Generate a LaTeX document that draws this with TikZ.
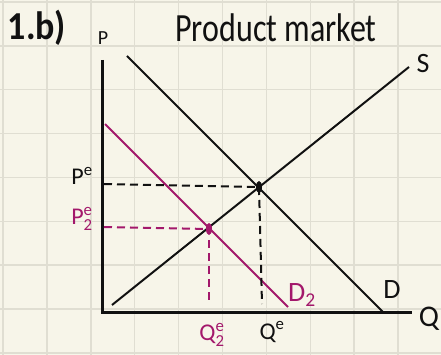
\documentclass[tikz,border=0pt]{standalone}
\usepackage{fontspec}
\usepackage{amsmath}
\setmainfont{Carlito}
\definecolor{paper}{HTML}{F7F5E9}
\definecolor{gridline}{HTML}{E0DED2}
\definecolor{plum}{HTML}{A3186B}
\definecolor{ink}{HTML}{111111}
\begin{document}
\begin{tikzpicture}[x=1pt, y=-1pt,
    curve/.style={ink, line width=2pt},
    guide/.style={line width=2pt, dash pattern=on 8pt off 5pt},
    lbl/.style={inner sep=0pt, font=\fontsize{28}{30}\selectfont},
    small/.style={inner sep=0pt, font=\fontsize{24}{26}\selectfont}]
    % FOGLIO A QUADRETTI
    \fill[paper] (0,0) rectangle (441,355);
    \useasboundingbox (0,0) rectangle (441,355);
    \foreach \i in {0,...,10}
        \draw[gridline, line width=1.5pt] ({3+43.9*\i},0) -- ({3+43.9*\i},355);
    \foreach \j in {0,...,8}
        \draw[gridline, line width=1.5pt] (0,{2+43.85*\j}) -- (441,{2+43.85*\j});

    % ASSI
    \coordinate (O) at (102,312);
    \coordinate (ytop) at (102,60);
    \coordinate (xend) at (412,312);
    \draw[ink, line width=3pt] (ytop) -- (O) -- (xend);
    \node[small, ink, font=\fontsize{20}{22}\selectfont] (P) at (103,38) {P};
    \node[lbl, ink, font=\fontsize{30}{32}\selectfont] (Q) at (429,319) {Q};

    % TITOLO
    \node[ink, inner sep=0pt, font=\fontsize{36}{38}\selectfont\bfseries, yscale=1.1] (part) at (37,28) {1.b)};
    \node[ink, inner sep=0pt, font=\fontsize{32}{34}\selectfont, yscale=1.25] (title) at (276,28) {Product market};

    % CURVE
    \coordinate (Sa) at (112,305);
    \coordinate (Sb) at (409,67);
    \coordinate (Da) at (127,56);
    \coordinate (Db) at (383,312);
    \coordinate (DDa) at (105,124);
    \coordinate (DDb) at (288,307);
    \coordinate (E1) at (259,187);
    \coordinate (E2) at (209,229);
    \draw[curve] (Sa) -- (Sb);
    \draw[curve] (Da) -- (Db);
    \draw[curve, plum] (DDa) -- (DDb);
    \node[lbl, ink] (S) at (423,64) {S};
    \node[lbl, ink] (D) at (392,290) {D};
    \node[lbl, plum] (D2) at (302,295) {D\textsubscript{2}};

    % EQUILIBRIO ORIGINALE
    \coordinate (pe) at (104,184);
    \coordinate (qe) at (262,304);
    \draw[guide, ink] (pe) -- (E1);
    \draw[guide, ink] (E1) -- (qe);
    \fill[ink] (E1) ellipse (3 and 6);
    \node[small, ink] (Pe) at (82,176) {\(\text{P}^{\text{e}}\)};
    \node[small, ink] (Qe) at (272,332) {\(\text{Q}^{\text{e}}\)};

    % NUOVO EQUILIBRIO
    \coordinate (pe2) at (104,227);
    \coordinate (qe2a) at (209,240);
    \coordinate (qe2) at (209,303);
    \draw[guide, plum] (pe2) -- (E2);
    \draw[guide, plum] (qe2a) -- (qe2);
    \fill[plum] (E2) ellipse (3 and 6);
    \node[small, plum] (Pe2) at (82,219) {\(\text{P}^{\text{e}}_{\text{2}}\)};
    \node[small, plum] (Qe2) at (212,335) {\(\text{Q}^{\text{e}}_{\text{2}}\)};
\end{tikzpicture}
\end{document}
